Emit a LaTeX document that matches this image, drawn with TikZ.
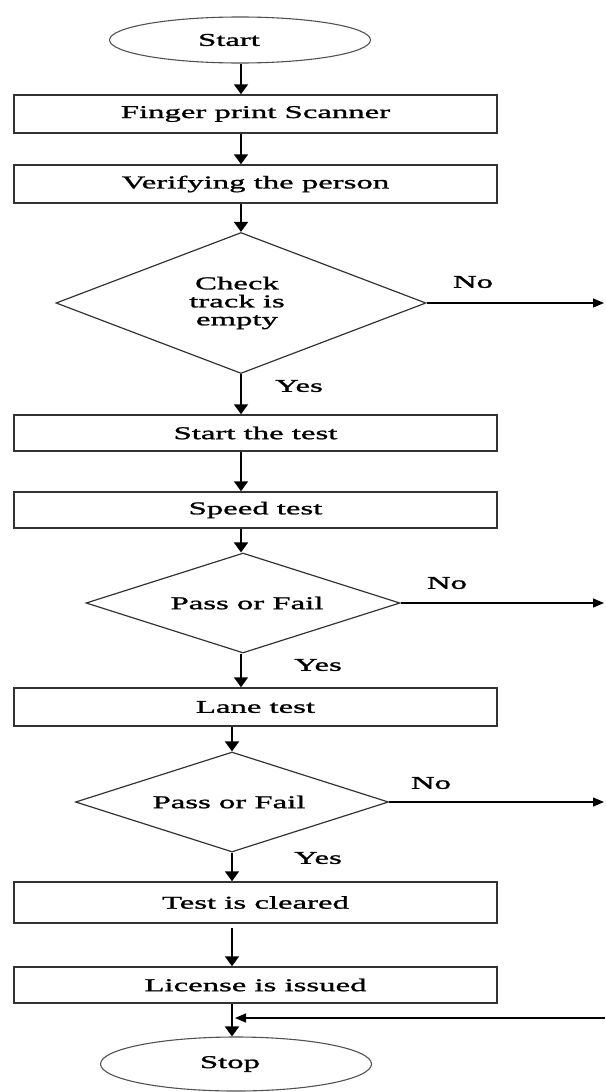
\documentclass[tikz,border=0pt]{standalone}
\usepackage{fontspec}
\usetikzlibrary{shapes.geometric,arrows.meta}
\newfontfamily\widefont[FakeStretch=1.82,FakeBold=1.4]{Liberation Serif}
\definecolor{edge}{HTML}{333333}
\tikzset{
  txt/.style={font=\widefont\fontsize{18}{18}\selectfont, text=black},
  procbox/.style={txt, draw=edge, line width=1.5pt, rectangle, minimum width=483pt, inner sep=0pt},
  term/.style={txt, draw=edge!85, line width=1.1pt, ellipse, inner sep=0pt},
  decide/.style={txt, draw=edge, line width=1.2pt, diamond, shape aspect=2.6, inner sep=0pt, align=center},
  varrow/.style={draw=black, line width=1.8pt, -{Triangle[width=14pt,length=10pt]}},
  harrow/.style={draw=black, line width=1.2pt, -{Triangle[width=9pt,length=11pt]}},
  lbl/.style={txt, inner sep=0pt}
}
\begin{document}
\begin{tikzpicture}[x=1pt,y=-1pt]
\useasboundingbox (0,0) rectangle (605,1092);
% nodes
\node[term, minimum width=261pt, minimum height=46pt] (start) at (240,40) {Start\kern22pt};
\node[procbox, minimum height=38pt] (b1) at (255.5,114) {Finger print Scanner};
\node[procbox, minimum height=38pt] (b2) at (255.5,184) {Verifying the person};
\node[decide, minimum width=370pt, minimum height=141pt] (d1) at (241,303) {Check\kern8pt\\track is\kern8pt\\empty\kern8pt};
\node[procbox, minimum height=36pt] (b3) at (255.5,433) {Start the test};
\node[procbox, minimum height=36pt] (b4) at (255.5,510) {Speed test};
\node[decide, minimum width=314pt, minimum height=100pt] (d2) at (243,603) {\kern8pt Pass or Fail};
\node[procbox, minimum height=38pt] (b5) at (255.5,707) {Lane test};
\node[decide, minimum width=313pt, minimum height=100pt] (d3) at (232,802) {Pass or Fail\kern6pt};
\node[procbox, minimum height=41pt] (b6) at (255.5,902.5) {Test is cleared};
\node[procbox, minimum height=36pt] (b7) at (255.5,985) {License is issued};
\node[term, minimum width=271pt, minimum height=54pt] (stop) at (236,1064) {Stop\kern12pt};
% labels
\node[lbl] (no1) at (473,282) {No};
\node[lbl] (yes1) at (299,386) {Yes};
\node[lbl] (no2) at (447,583) {No};
\node[lbl] (yes2) at (318,665) {Yes};
\node[lbl] (no3) at (431,783) {No};
\node[lbl] (yes3) at (318,858) {Yes};
% helper coordinates
\coordinate (upx) at (241,0);
\coordinate (lowx) at (232,0);
\coordinate (e1) at (604,303);
\coordinate (e2) at (604,603);
\coordinate (e3) at (604,802);
\coordinate (ret) at (605,1018);
% vertical connectors
\draw[varrow] (upx |- start.south) -- (upx |- b1.north);
\draw[varrow] (upx |- b1.south) -- (upx |- b2.north);
\draw[varrow] (upx |- b2.south) -- (d1.north);
\draw[varrow] (d1.south) -- (upx |- b3.north);
\draw[varrow] (upx |- b3.south) -- (upx |- b4.north);
\draw[varrow] (upx |- b4.south) -- (upx |- d2.north);
\draw[varrow] (upx |- d2.south) -- (upx |- b5.north);
\draw[varrow] (lowx |- b5.south) -- (d3.north);
\draw[varrow] (d3.south) -- (lowx |- b6.north);
\draw[varrow] ([yshift=-4pt]lowx |- b6.south) -- (lowx |- b7.north);
\draw[varrow] (lowx |- b7.south) -- (lowx |- stop.north);
% horizontal connectors
\draw[harrow] (d1.east) -- (e1);
\draw[harrow] (d2.east) -- (e2);
\draw[harrow] (d3.east) -- (e3);
\draw[harrow] (ret) -- ([xshift=3pt]lowx |- ret);
\end{tikzpicture}
\end{document}
